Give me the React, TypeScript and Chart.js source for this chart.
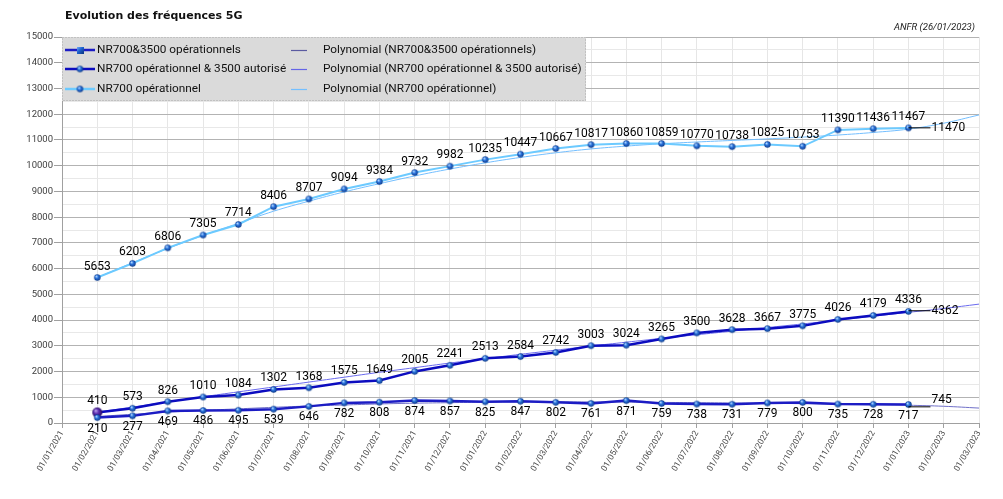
import { useEffect, useRef } from "react";
import { Chart, registerables } from "chart.js";

Chart.register(...registerables);

const months = [
  "01/01/2021", "01/02/2021", "01/03/2021", "01/04/2021", "01/05/2021", "01/06/2021",
  "01/07/2021", "01/08/2021", "01/09/2021", "01/10/2021", "01/11/2021", "01/12/2021",
  "01/01/2022", "01/02/2022", "01/03/2022", "01/04/2022", "01/05/2022", "01/06/2022",
  "01/07/2022", "01/08/2022", "01/09/2022", "01/10/2022", "01/11/2022", "01/12/2022",
  "01/01/2023", "01/02/2023", "01/03/2023",
];

// monthly values, 01/02/2021 -> 01/01/2023
const nr700And3500Ops = [
  210, 277, 469, 486, 495, 539, 646, 782, 808, 874, 857, 825,
  847, 802, 761, 871, 759, 738, 731, 779, 800, 735, 728, 717,
];
const nr700OpsAnd3500Auth = [
  410, 573, 826, 1010, 1084, 1302, 1368, 1575, 1649, 2005, 2241, 2513,
  2584, 2742, 3003, 3024, 3265, 3500, 3628, 3667, 3775, 4026, 4179, 4336,
];
const nr700Ops = [
  5653, 6203, 6806, 7305, 7714, 8406, 8707, 9094, 9384, 9732, 9982, 10235,
  10447, 10667, 10817, 10860, 10859, 10770, 10738, 10825, 10753, 11390, 11436, 11467,
];

// values at 26/01/2023 (labels with leader lines)
const latestValues = [745, 4362, 11470];

// polynomial trend lines, 01/02/2021 -> 01/03/2023
const trendOps = [
  250, 340, 420, 490, 550, 610, 660, 700, 740, 770, 790, 810,
  820, 820, 820, 810, 800, 790, 780, 770, 750, 730, 710, 690, 650, 580,
];
const trendAuth = [
  420, 620, 820, 1020, 1210, 1400, 1590, 1780, 1970, 2150, 2330, 2500,
  2670, 2830, 2990, 3140, 3290, 3430, 3570, 3710, 3850, 4000, 4150, 4300, 4450, 4620,
];
const trendNr700 = [
  5650, 6230, 6780, 7290, 7760, 8230, 8620, 8980, 9300, 9600, 9870, 10110,
  10320, 10500, 10650, 10760, 10850, 10920, 10980, 11040, 11110, 11190, 11290, 11420, 11650, 11970,
];

const seriesNames = [
  "NR700&3500 opérationnels",
  "NR700 opérationnel & 3500 autorisé",
  "NR700 opérationnel",
];

const FONT = "Roboto, 'Liberation Sans', sans-serif";

function sphere(r: number, light: string, base: string, dark: string) {
  const s = Math.ceil(r * 2 + 2);
  const c = document.createElement("canvas");
  c.width = s;
  c.height = s;
  const g = c.getContext("2d")!;
  const grad = g.createRadialGradient(s / 2 - r * 0.35, s / 2 - r * 0.4, r * 0.1, s / 2, s / 2, r);
  grad.addColorStop(0, light);
  grad.addColorStop(0.45, base);
  grad.addColorStop(1, dark);
  g.fillStyle = grad;
  g.beginPath();
  g.arc(s / 2, s / 2, r, 0, Math.PI * 2);
  g.fill();
  return c;
}

function square(r: number) {
  const s = Math.ceil(r * 2);
  const c = document.createElement("canvas");
  c.width = s;
  c.height = s;
  const g = c.getContext("2d")!;
  const grad = g.createLinearGradient(0, 0, s, s);
  grad.addColorStop(0, "#7fb6ff");
  grad.addColorStop(0.5, "#1f63d0");
  grad.addColorStop(1, "#0a3580");
  g.fillStyle = grad;
  g.fillRect(0, 0, s, s);
  return c;
}

export default function App() {
  const canvasRef = useRef<HTMLCanvasElement>(null);

  useEffect(() => {
    if (!canvasRef.current) return;
    document.body.style.margin = "0";

    const blueSphere = sphere(3.2, "#b5dbff", "#2a72dc", "#0c3a8a");
    const purpleSphere = sphere(5, "#b89ce8", "#5a2bb0", "#2a0e66");
    const blueSquare = square(3.5);

    const pad = (vals: number[], before: number, total: number) => {
      const out: (number | null)[] = [];
      for (let i = 0; i < before; i++) out.push(null);
      vals.forEach((v) => out.push(v));
      while (out.length < total) out.push(null);
      return out;
    };

    const n = months.length;

    const valueLabels = {
      id: "valueLabels",
      afterDatasetsDraw(chart: any) {
        const ctx = chart.ctx;
        const xs = chart.scales.x;
        const ys = chart.scales.y;
        ctx.save();
        ctx.font = `12px ${FONT}`;
        ctx.fillStyle = "#000";
        ctx.textAlign = "center";
        ctx.textBaseline = "middle";
        chart.data.datasets.forEach((ds: any, di: number) => {
          if (!ds.valueLabel) return;
          const meta = chart.getDatasetMeta(di);
          meta.data.forEach((pt: any, i: number) => {
            const v = ds.data[i];
            if (v == null) return;
            ctx.fillText(String(v), pt.x, pt.y + (ds.valueLabel === "below" ? 11 : -11));
          });
        });
        // latest values, drawn to the right of the last point with a leader line
        const x0 = xs.getPixelForValue(24);
        latestValues.forEach((v, k) => {
          const y = ys.getPixelForValue(v);
          const ly = k === 0 ? y + 3 : y;
          ctx.strokeStyle = "#000";
          ctx.lineWidth = 1;
          ctx.beginPath();
          ctx.moveTo(x0, ly);
          ctx.lineTo(x0 + 22, ly);
          ctx.stroke();
          ctx.textAlign = "left";
          ctx.fillText(String(v), x0 + 23, k === 0 ? y - 4 : y);
        });
        ctx.restore();
      },
    };

    const decorations = {
      id: "decorations",
      afterDraw(chart: any) {
        const ctx = chart.ctx;
        const area = chart.chartArea;
        ctx.save();
        // title + source
        ctx.fillStyle = "#111";
        ctx.textBaseline = "middle";
        ctx.textAlign = "left";
        ctx.font = "bold 11px 'DejaVu Sans', sans-serif";
        ctx.fillText("Evolution des fréquences 5G", 65, 16);
        ctx.font = `italic 9.5px ${FONT}`;
        ctx.textAlign = "right";
        ctx.fillStyle = "#222";
        ctx.fillText("ANFR (26/01/2023)", area.right - 4, 28);

        // legend box
        const bx = area.left;
        const by = area.top;
        const bw = 524;
        const bh = 64;
        ctx.fillStyle = "#dadada";
        ctx.fillRect(bx, by, bw, bh);
        ctx.strokeStyle = "#a8a8a8";
        ctx.setLineDash([1, 2]);
        ctx.strokeRect(bx + 0.5, by + 0.5, bw - 1, bh - 1);
        ctx.setLineDash([]);

        const rows = [13, 32, 52];
        const lineColors = ["#1c1cc4", "#0c0cbf", "#6ccaff"];
        const trendColors = ["#5a5aa0", "#6464e6", "#74bfff"];
        ctx.font = `11.8px ${FONT}`;
        ctx.textAlign = "left";
        rows.forEach((dy, k) => {
          const y = by + dy;
          ctx.strokeStyle = lineColors[k];
          ctx.lineWidth = 2.5;
          ctx.beginPath();
          ctx.moveTo(bx + 3, y);
          ctx.lineTo(bx + 33, y);
          ctx.stroke();
          const img = k === 0 ? blueSquare : blueSphere;
          ctx.drawImage(img, bx + 18 - img.width / 2, y - img.height / 2);
          ctx.fillStyle = "#111";
          ctx.fillText(seriesNames[k], bx + 35, y + 0.5);

          ctx.strokeStyle = trendColors[k];
          ctx.lineWidth = 1.2;
          ctx.beginPath();
          ctx.moveTo(bx + 229, y + 0.5);
          ctx.lineTo(bx + 245, y + 0.5);
          ctx.stroke();
          ctx.fillText(`Polynomial (${seriesNames[k]})`, bx + 261, y + 0.5);
        });
        ctx.restore();
      },
    };

    const chart = new Chart(canvasRef.current, {
      type: "line",
      data: {
        labels: months,
        datasets: [
          {
            label: seriesNames[0],
            data: pad(nr700And3500Ops, 1, n),
            borderColor: "#1c1cc4",
            borderWidth: 2.5,
            pointStyle: blueSphere,
            order: 0,
            valueLabel: "below",
          },
          {
            label: seriesNames[1],
            data: pad(nr700OpsAnd3500Auth, 1, n),
            borderColor: "#0c0cbf",
            borderWidth: 2.5,
            pointStyle: (c: any) => (c.dataIndex === 1 ? purpleSphere : blueSphere),
            order: 0,
            valueLabel: "above",
          },
          {
            label: seriesNames[2],
            data: pad(nr700Ops, 1, n),
            borderColor: "#6ccaff",
            borderWidth: 2,
            pointStyle: blueSphere,
            order: 0,
            valueLabel: "above",
          },
          {
            label: `Polynomial (${seriesNames[0]})`,
            data: pad(trendOps, 1, n),
            borderColor: "#7070c8",
            borderWidth: 1,
            pointRadius: 0,
            tension: 0.4,
            order: 1,
          },
          {
            label: `Polynomial (${seriesNames[1]})`,
            data: pad(trendAuth, 1, n),
            borderColor: "#6a6aee",
            borderWidth: 1,
            pointRadius: 0,
            tension: 0.4,
            order: 1,
          },
          {
            label: `Polynomial (${seriesNames[2]})`,
            data: pad(trendNr700, 1, n),
            borderColor: "#74bfff",
            borderWidth: 1,
            pointRadius: 0,
            tension: 0.4,
            order: 1,
          },
        ] as any,
      },
      options: {
        animation: false,
        responsive: true,
        maintainAspectRatio: false,
        layout: { padding: { top: 37, right: 24, left: 0, bottom: 0 } },
        plugins: {
          legend: { display: false },
          title: { display: false },
          tooltip: { enabled: false },
        },
        scales: {
          x: {
            type: "category",
            offset: false,
            afterFit: (s: any) => {
              s.height = 76;
            },
            grid: { color: "#e6e6e6", tickColor: "#a0a0a0", tickLength: 5 },
            border: { color: "#a0a0a0" },
            ticks: {
              autoSkip: false,
              minRotation: 60,
              maxRotation: 60,
              padding: 1,
              color: "#4a4a4a",
              font: { size: 8.5, family: FONT },
            },
          },
          y: {
            min: 0,
            max: 15000,
            afterFit: (s: any) => {
              s.width = 62;
            },
            grid: {
              color: (c: any) => (c.tick.value % 1000 === 0 ? "#b3b3b3" : "#e8e8e8"),
              tickColor: (c: any) => (c.tick.value % 1000 === 0 ? "#a0a0a0" : "rgba(0,0,0,0)"),
              tickLength: 8,
            },
            border: { color: "#a0a0a0" },
            ticks: {
              stepSize: 500,
              autoSkip: false,
              padding: 1,
              color: "#404040",
              font: { size: 9.5, family: FONT },
              callback: (v: any) => (Number(v) % 1000 === 0 ? String(v) : ""),
            },
          },
        },
      },
      plugins: [valueLabels, decorations],
    });

    return () => chart.destroy();
  }, []);

  return (
    <div style={{ position: "fixed", left: 0, top: 0, width: 1003, height: 499, background: "#fff" }}>
      <canvas ref={canvasRef} />
    </div>
  );
}
